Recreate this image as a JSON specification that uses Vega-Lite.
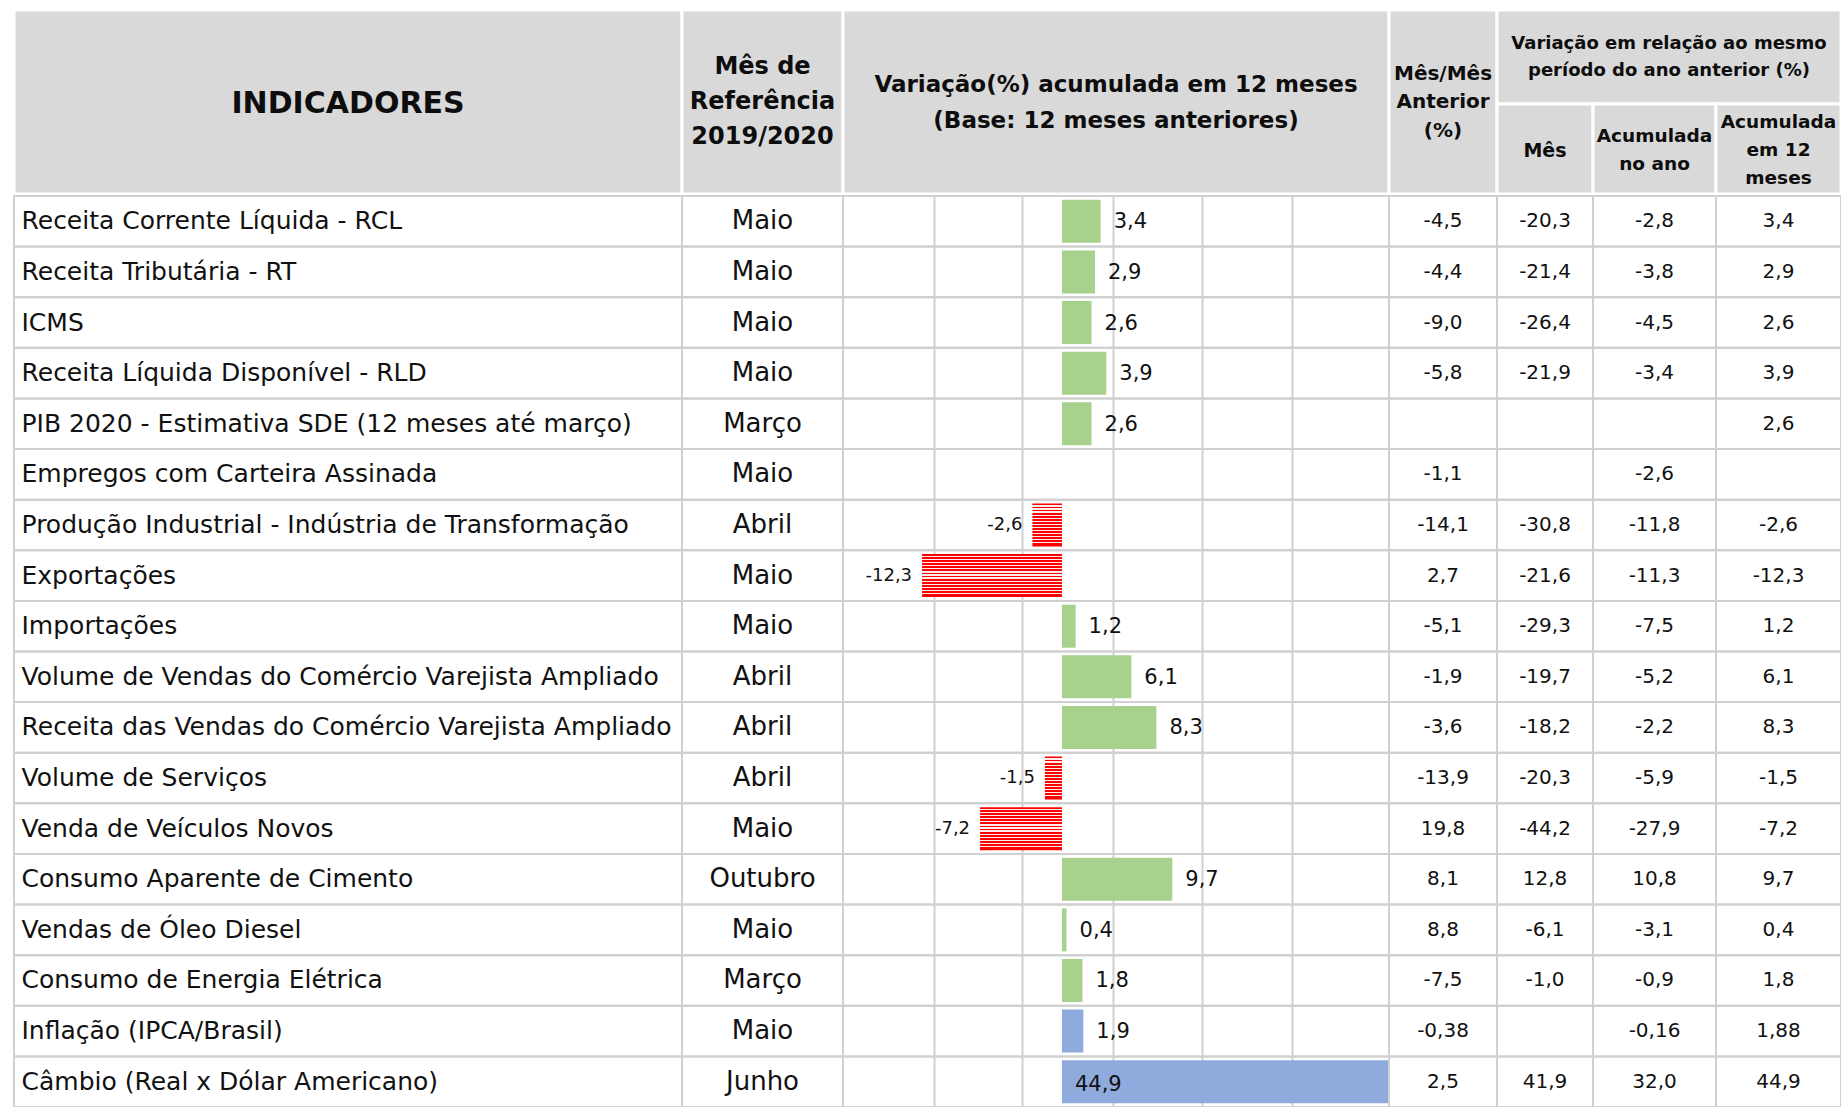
{
  "$schema": "https://vega.github.io/schema/vega-lite/v6.json",
  "padding": {"left": 12, "top": 8, "right": 0, "bottom": 0},
  "background": "white",
  "spacing": -2.5,
  "bounds": "full",
  "config": {
    "view": {"stroke": null},
    "font": "DejaVu Sans",
    "locale": {"number": {"decimal": ",", "thousands": ".", "grouping": [3], "currency": ["R$", ""], "minus": "-"}},
    "text": {"font": "DejaVu Sans", "fill": "#111111"}
  },
  "datasets": {
    "ind": [
      {"Indicador": "Receita Corrente Líquida - RCL", "Referencia": "Maio", "MesAnterior": -4.5, "VarMes": -20.3, "AcumAno": -2.8, "Acum12": 3.4, "Grupo": "Atividade"},
      {"Indicador": "Receita Tributária - RT", "Referencia": "Maio", "MesAnterior": -4.4, "VarMes": -21.4, "AcumAno": -3.8, "Acum12": 2.9, "Grupo": "Atividade"},
      {"Indicador": "ICMS", "Referencia": "Maio", "MesAnterior": -9.0, "VarMes": -26.4, "AcumAno": -4.5, "Acum12": 2.6, "Grupo": "Atividade"},
      {"Indicador": "Receita Líquida Disponível - RLD", "Referencia": "Maio", "MesAnterior": -5.8, "VarMes": -21.9, "AcumAno": -3.4, "Acum12": 3.9, "Grupo": "Atividade"},
      {"Indicador": "PIB  2020 - Estimativa SDE (12 meses até março)", "Referencia": "Março", "MesAnterior": null, "VarMes": null, "AcumAno": null, "Acum12": 2.6, "Grupo": "Atividade"},
      {"Indicador": "Empregos com Carteira Assinada", "Referencia": "Maio", "MesAnterior": -1.1, "VarMes": null, "AcumAno": -2.6, "Acum12": null, "Grupo": "Atividade"},
      {"Indicador": "Produção Industrial - Indústria de Transformação", "Referencia": "Abril", "MesAnterior": -14.1, "VarMes": -30.8, "AcumAno": -11.8, "Acum12": -2.6, "Grupo": "Atividade"},
      {"Indicador": "Exportações", "Referencia": "Maio", "MesAnterior": 2.7, "VarMes": -21.6, "AcumAno": -11.3, "Acum12": -12.3, "Grupo": "Atividade"},
      {"Indicador": "Importações", "Referencia": "Maio", "MesAnterior": -5.1, "VarMes": -29.3, "AcumAno": -7.5, "Acum12": 1.2, "Grupo": "Atividade"},
      {"Indicador": "Volume de Vendas do Comércio Varejista Ampliado", "Referencia": "Abril", "MesAnterior": -1.9, "VarMes": -19.7, "AcumAno": -5.2, "Acum12": 6.1, "Grupo": "Atividade"},
      {"Indicador": "Receita das Vendas do Comércio Varejista Ampliado", "Referencia": "Abril", "MesAnterior": -3.6, "VarMes": -18.2, "AcumAno": -2.2, "Acum12": 8.3, "Grupo": "Atividade"},
      {"Indicador": "Volume de  Serviços", "Referencia": "Abril", "MesAnterior": -13.9, "VarMes": -20.3, "AcumAno": -5.9, "Acum12": -1.5, "Grupo": "Atividade"},
      {"Indicador": "Venda de Veículos Novos", "Referencia": "Maio", "MesAnterior": 19.8, "VarMes": -44.2, "AcumAno": -27.9, "Acum12": -7.2, "Grupo": "Atividade"},
      {"Indicador": "Consumo Aparente de Cimento", "Referencia": "Outubro", "MesAnterior": 8.1, "VarMes": 12.8, "AcumAno": 10.8, "Acum12": 9.7, "Grupo": "Atividade"},
      {"Indicador": "Vendas de Óleo Diesel", "Referencia": "Maio", "MesAnterior": 8.8, "VarMes": -6.1, "AcumAno": -3.1, "Acum12": 0.4, "Grupo": "Atividade"},
      {"Indicador": "Consumo  de Energia Elétrica", "Referencia": "Março", "MesAnterior": -7.5, "VarMes": -1.0, "AcumAno": -0.9, "Acum12": 1.8, "Grupo": "Atividade"},
      {"Indicador": "Inflação (IPCA/Brasil)", "Referencia": "Maio", "MesAnterior": -0.38, "VarMes": null, "AcumAno": -0.16, "Acum12": 1.88, "Grupo": "Preços"},
      {"Indicador": "Câmbio (Real x Dólar Americano)", "Referencia": "Junho", "MesAnterior": 2.5, "VarMes": 41.9, "AcumAno": 32.0, "Acum12": 44.9, "Grupo": "Preços"}
    ]
  },
  "vconcat": [
    {
      "hconcat": [
        {"width": 668, "height": 184, "view": {"fill": "#d9d9d9", "stroke": "white", "strokeWidth": 3},
         "data": {"values": [{}]},
         "mark": {"type": "text", "text": "INDICADORES", "fontSize": 30, "fontWeight": "bold", "fill": "#0d0d0d", "dy": 2}},
        {"width": 161, "height": 184, "view": {"fill": "#d9d9d9", "stroke": "white", "strokeWidth": 3},
         "data": {"values": [{}]},
         "mark": {"type": "text", "text": ["Mês de", "Referência", "2019/2020"], "fontSize": 24, "fontWeight": "bold", "lineHeight": 35, "dy": -35, "fill": "#0d0d0d"}},
        {"width": 546, "height": 184, "view": {"fill": "#d9d9d9", "stroke": "white", "strokeWidth": 3},
         "data": {"values": [{}]},
         "mark": {"type": "text", "text": ["Variação(%) acumulada em 12 meses", "(Base: 12 meses anteriores)"], "fontSize": 23, "fontWeight": "bold", "lineHeight": 36, "dy": -17, "fill": "#0d0d0d"}},
        {"width": 108, "height": 184, "view": {"fill": "#d9d9d9", "stroke": "white", "strokeWidth": 3},
         "data": {"values": [{}]},
         "mark": {"type": "text", "text": ["Mês/Mês", "Anterior", "(%)"], "fontSize": 20, "fontWeight": "bold", "lineHeight": 28.5, "dy": -28.5, "fill": "#0d0d0d"}},
        {
          "vconcat": [
            {"width": 344, "height": 94, "view": {"fill": "#d9d9d9", "stroke": "white", "strokeWidth": 3},
             "data": {"values": [{}]},
             "mark": {"type": "text", "text": ["Variação em relação ao mesmo", "período do ano anterior (%)"], "fontSize": 18, "fontWeight": "bold", "lineHeight": 27, "dy": -13.5, "fill": "#0d0d0d"}},
            {
              "hconcat": [
                {"width": 96, "height": 90, "view": {"fill": "#d9d9d9", "stroke": "white", "strokeWidth": 3},
                 "data": {"values": [{}]},
                 "mark": {"type": "text", "text": "Mês", "fontSize": 19, "fontWeight": "bold", "dy": 2, "fill": "#0d0d0d"}},
                {"width": 123, "height": 90, "view": {"fill": "#d9d9d9", "stroke": "white", "strokeWidth": 3},
                 "data": {"values": [{}]},
                 "mark": {"type": "text", "text": ["Acumulada", "no ano"], "fontSize": 18.5, "fontWeight": "bold", "lineHeight": 28, "dy": -13, "fill": "#0d0d0d"}},
                {"width": 125, "height": 90, "view": {"fill": "#d9d9d9", "stroke": "white", "strokeWidth": 3},
                 "data": {"values": [{}]},
                 "mark": {"type": "text", "text": ["Acumulada", "em 12", "meses"], "fontSize": 18.5, "fontWeight": "bold", "lineHeight": 28, "dy": -27, "fill": "#0d0d0d"}}
              ],
              "spacing": 0, "bounds": "flush"
            }
          ],
          "spacing": 0, "bounds": "flush"
        }
      ],
      "spacing": 0, "bounds": "flush"
    },
    {
      "hconcat": [
        {
          "width": 668, "height": 911,
          "view": {"stroke": "#d0d0d0", "strokeWidth": 2},
          "data": {"name": "ind"},
          "mark": {"type": "rect", "fillOpacity": 0, "stroke": "#d0d0d0", "strokeWidth": 2},
          "encoding": {
            "y": {"field": "Indicador", "type": "nominal", "sort": null,
                  "scale": {"paddingInner": 0, "paddingOuter": 0},
                  "axis": {"title": null, "orient": "left", "labelAlign": "left", "labelPadding": -7, "ticks": false, "tickSize": 0, "domain": false, "grid": false, "labelFont": "DejaVu Sans", "labelFontSize": 25, "labelColor": "#111111", "labelLimit": 700, "zindex": 1}}
          }
        },
        {
          "width": 161, "height": 911,
          "view": {"stroke": "#d0d0d0", "strokeWidth": 2},
          "data": {"name": "ind"},
          "layer": [
            {"mark": {"type": "rect", "fillOpacity": 0, "stroke": "#d0d0d0", "strokeWidth": 2},
             "encoding": {"y": {"field": "Indicador", "type": "nominal", "sort": null, "axis": null, "scale": {"paddingInner": 0, "paddingOuter": 0}}}},
            {"mark": {"type": "text", "fontSize": 26},
             "encoding": {"y": {"field": "Indicador", "type": "nominal", "sort": null}, "text": {"field": "Referencia", "type": "nominal"}}}
          ]
        },
        {
          "width": 546, "height": 911,
          "view": {"stroke": "#d0d0d0", "strokeWidth": 2},
          "data": {"name": "ind"},
          "layer": [
            {"mark": {"type": "rect", "fillOpacity": 0, "stroke": "#d0d0d0", "strokeWidth": 2},
             "encoding": {"y": {"field": "Indicador", "type": "nominal", "sort": null, "axis": null, "scale": {"paddingInner": 0, "paddingOuter": 0}}}},
            {"transform": [{"filter": "isValid(datum.Acum12) && datum.Acum12 >= 0 && datum.Grupo !== 'Preços'"}],
             "mark": {"type": "bar", "fill": "#a9d18e", "height": {"band": 0.85}, "clip": true},
             "encoding": {
               "y": {"field": "Indicador", "type": "nominal", "sort": null},
               "x": {"field": "Acum12", "type": "quantitative",
                     "scale": {"domain": [-19.25, 28.75], "nice": false, "zero": false},
                     "axis": {"title": null, "labels": false, "ticks": false, "domain": false, "grid": true, "values": [-11.25, -3.5, 4.5, 12.3, 20.2], "gridColor": "#d0d0d0", "gridWidth": 2}}
             }},
            {"transform": [{"filter": "isValid(datum.Acum12) && datum.Acum12 < 0"}],
             "mark": {"type": "bar", "height": {"band": 0.85}, "clip": true,
                      "fill": {"gradient": "linear", "x1": 0, "y1": 0, "x2": 0, "y2": 1, "stops": [
                        {"offset": 0, "color": "#ff0000"}, {"offset": 0.043, "color": "#ff0000"}, {"offset": 0.043, "color": "#ffeeee"}, {"offset": 0.0714, "color": "#ffeeee"},
                        {"offset": 0.0714, "color": "#ff0000"}, {"offset": 0.1143, "color": "#ff0000"}, {"offset": 0.1143, "color": "#ffeeee"}, {"offset": 0.1429, "color": "#ffeeee"},
                        {"offset": 0.1429, "color": "#ff0000"}, {"offset": 0.1857, "color": "#ff0000"}, {"offset": 0.1857, "color": "#ffeeee"}, {"offset": 0.2143, "color": "#ffeeee"},
                        {"offset": 0.2143, "color": "#ff0000"}, {"offset": 0.2571, "color": "#ff0000"}, {"offset": 0.2571, "color": "#ffeeee"}, {"offset": 0.2857, "color": "#ffeeee"},
                        {"offset": 0.2857, "color": "#ff0000"}, {"offset": 0.3286, "color": "#ff0000"}, {"offset": 0.3286, "color": "#ffeeee"}, {"offset": 0.3571, "color": "#ffeeee"},
                        {"offset": 0.3571, "color": "#ff0000"}, {"offset": 0.4, "color": "#ff0000"}, {"offset": 0.4, "color": "#ffeeee"}, {"offset": 0.4286, "color": "#ffeeee"},
                        {"offset": 0.4286, "color": "#ff0000"}, {"offset": 0.4714, "color": "#ff0000"}, {"offset": 0.4714, "color": "#ffeeee"}, {"offset": 0.5, "color": "#ffeeee"},
                        {"offset": 0.5, "color": "#ff0000"}, {"offset": 0.5429, "color": "#ff0000"}, {"offset": 0.5429, "color": "#ffeeee"}, {"offset": 0.5714, "color": "#ffeeee"},
                        {"offset": 0.5714, "color": "#ff0000"}, {"offset": 0.6143, "color": "#ff0000"}, {"offset": 0.6143, "color": "#ffeeee"}, {"offset": 0.6429, "color": "#ffeeee"},
                        {"offset": 0.6429, "color": "#ff0000"}, {"offset": 0.6857, "color": "#ff0000"}, {"offset": 0.6857, "color": "#ffeeee"}, {"offset": 0.7143, "color": "#ffeeee"},
                        {"offset": 0.7143, "color": "#ff0000"}, {"offset": 0.7571, "color": "#ff0000"}, {"offset": 0.7571, "color": "#ffeeee"}, {"offset": 0.7857, "color": "#ffeeee"},
                        {"offset": 0.7857, "color": "#ff0000"}, {"offset": 0.8286, "color": "#ff0000"}, {"offset": 0.8286, "color": "#ffeeee"}, {"offset": 0.8571, "color": "#ffeeee"},
                        {"offset": 0.8571, "color": "#ff0000"}, {"offset": 0.9, "color": "#ff0000"}, {"offset": 0.9, "color": "#ffeeee"}, {"offset": 0.9286, "color": "#ffeeee"},
                        {"offset": 0.9286, "color": "#ff0000"}, {"offset": 1, "color": "#ff0000"}
                      ]}},
             "encoding": {"y": {"field": "Indicador", "type": "nominal", "sort": null}, "x": {"field": "Acum12", "type": "quantitative"}}},
            {"transform": [{"filter": "isValid(datum.Acum12) && datum.Grupo === 'Preços'"}],
             "mark": {"type": "bar", "fill": "#8faadc", "height": {"band": 0.85}, "clip": true},
             "encoding": {"y": {"field": "Indicador", "type": "nominal", "sort": null}, "x": {"field": "Acum12", "type": "quantitative"}}},
            {"transform": [{"filter": "isValid(datum.Acum12) && datum.Acum12 >= 0 && datum.Acum12 <= 28.75"}],
             "mark": {"type": "text", "align": "left", "dx": 13, "dy": 1, "fontSize": 21},
             "encoding": {"y": {"field": "Indicador", "type": "nominal", "sort": null}, "x": {"field": "Acum12", "type": "quantitative"}, "text": {"field": "Acum12", "type": "quantitative", "format": ".1f"}}},
            {"transform": [{"filter": "isValid(datum.Acum12) && datum.Acum12 < 0"}],
             "mark": {"type": "text", "align": "right", "dx": -10, "fontSize": 18},
             "encoding": {"y": {"field": "Indicador", "type": "nominal", "sort": null}, "x": {"field": "Acum12", "type": "quantitative"}, "text": {"field": "Acum12", "type": "quantitative", "format": ".1f"}}},
            {"transform": [{"filter": "isValid(datum.Acum12) && datum.Acum12 > 28.75"}],
             "mark": {"type": "text", "align": "left", "dx": 13, "dy": 3, "fontSize": 21},
             "encoding": {"y": {"field": "Indicador", "type": "nominal", "sort": null}, "x": {"datum": 0, "type": "quantitative"}, "text": {"field": "Acum12", "type": "quantitative", "format": ".1f"}}}
          ]
        },
        {
          "width": 108, "height": 911,
          "view": {"stroke": "#d0d0d0", "strokeWidth": 2},
          "data": {"name": "ind"},
          "layer": [
            {"mark": {"type": "rect", "fillOpacity": 0, "stroke": "#d0d0d0", "strokeWidth": 2},
             "encoding": {"y": {"field": "Indicador", "type": "nominal", "sort": null, "axis": null, "scale": {"paddingInner": 0, "paddingOuter": 0}}}},
            {"transform": [{"filter": "isValid(datum.MesAnterior)"}],
             "mark": {"type": "text", "fontSize": 20},
             "encoding": {"y": {"field": "Indicador", "type": "nominal", "sort": null},
                          "text": {"condition": {"test": "abs(round(datum.MesAnterior * 100) - round(datum.MesAnterior * 10) * 10) > 0", "field": "MesAnterior", "type": "quantitative", "format": ".2f"}, "field": "MesAnterior", "type": "quantitative", "format": ".1f"}}}
          ]
        },
        {
          "width": 96, "height": 911,
          "view": {"stroke": "#d0d0d0", "strokeWidth": 2},
          "data": {"name": "ind"},
          "layer": [
            {"mark": {"type": "rect", "fillOpacity": 0, "stroke": "#d0d0d0", "strokeWidth": 2},
             "encoding": {"y": {"field": "Indicador", "type": "nominal", "sort": null, "axis": null, "scale": {"paddingInner": 0, "paddingOuter": 0}}}},
            {"transform": [{"filter": "isValid(datum.VarMes)"}],
             "mark": {"type": "text", "fontSize": 20},
             "encoding": {"y": {"field": "Indicador", "type": "nominal", "sort": null},
                          "text": {"field": "VarMes", "type": "quantitative", "format": ".1f"}}}
          ]
        },
        {
          "width": 123, "height": 911,
          "view": {"stroke": "#d0d0d0", "strokeWidth": 2},
          "data": {"name": "ind"},
          "layer": [
            {"mark": {"type": "rect", "fillOpacity": 0, "stroke": "#d0d0d0", "strokeWidth": 2},
             "encoding": {"y": {"field": "Indicador", "type": "nominal", "sort": null, "axis": null, "scale": {"paddingInner": 0, "paddingOuter": 0}}}},
            {"transform": [{"filter": "isValid(datum.AcumAno)"}],
             "mark": {"type": "text", "fontSize": 20},
             "encoding": {"y": {"field": "Indicador", "type": "nominal", "sort": null},
                          "text": {"condition": {"test": "abs(round(datum.AcumAno * 100) - round(datum.AcumAno * 10) * 10) > 0", "field": "AcumAno", "type": "quantitative", "format": ".2f"}, "field": "AcumAno", "type": "quantitative", "format": ".1f"}}}
          ]
        },
        {
          "width": 125, "height": 911,
          "view": {"stroke": "#d0d0d0", "strokeWidth": 2},
          "data": {"name": "ind"},
          "layer": [
            {"mark": {"type": "rect", "fillOpacity": 0, "stroke": "#d0d0d0", "strokeWidth": 2},
             "encoding": {"y": {"field": "Indicador", "type": "nominal", "sort": null, "axis": null, "scale": {"paddingInner": 0, "paddingOuter": 0}}}},
            {"transform": [{"filter": "isValid(datum.Acum12)"}],
             "mark": {"type": "text", "fontSize": 20},
             "encoding": {"y": {"field": "Indicador", "type": "nominal", "sort": null},
                          "text": {"condition": {"test": "abs(round(datum.Acum12 * 100) - round(datum.Acum12 * 10) * 10) > 0", "field": "Acum12", "type": "quantitative", "format": ".2f"}, "field": "Acum12", "type": "quantitative", "format": ".1f"}}}
          ]
        }
      ],
      "spacing": 0, "bounds": "flush"
    }
  ]
}
